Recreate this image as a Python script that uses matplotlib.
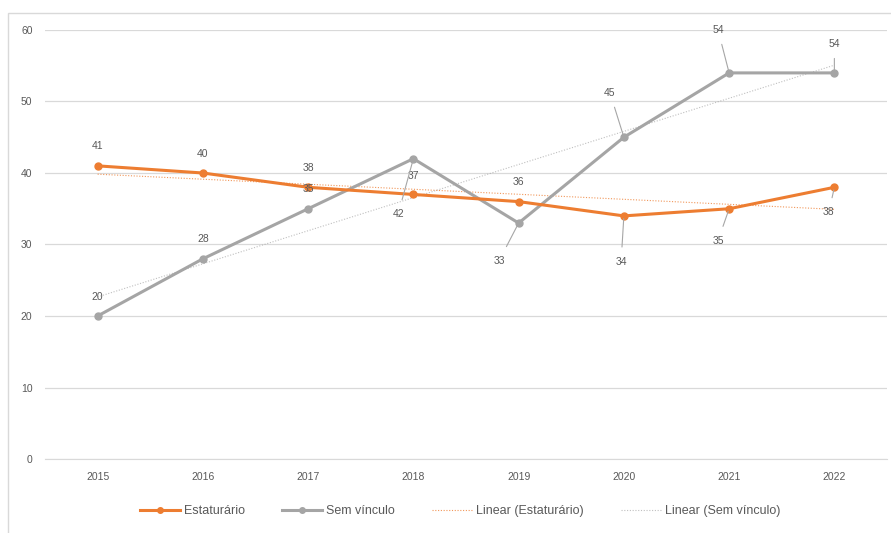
import matplotlib
matplotlib.use("Agg")
import matplotlib.pyplot as plt
import numpy as np
from matplotlib.lines import Line2D
from matplotlib.patches import Rectangle

plt.rcParams["font.family"] = ["Liberation Sans", "DejaVu Sans"]

years = ["2015", "2016", "2017", "2018", "2019", "2020", "2021", "2022"]
estaturario = [41, 40, 38, 37, 36, 34, 35, 38]
sem_vinculo = [20, 28, 35, 42, 33, 45, 54, 54]

# label offsets in points (dx, dy); leader line drawn when far from point
est_offsets = [(0, 14), (0, 14), (0, 14), (0, 13), (0, 14), (-2, -33), (-8, -23), (-4, -18)]
sem_offsets = [(0, 14), (0, 14), (0, 14), (-11, -40), (-14, -27), (-10, 32), (-8, 31), (0, 21)]

ORANGE = "#ED7D31"
GRAY = "#A5A5A5"
TEXT = "#595959"
GRID = "#D9D9D9"

fig = plt.figure(figsize=(8.91, 5.33), dpi=100)
fig.patches.append(Rectangle((8 / 891, -0.1), 1.0, 1 - 13 / 533 + 0.1, transform=fig.transFigure,
                             fill=False, edgecolor="#D9D9D9", linewidth=1.0))
ax = fig.add_axes([45 / 891, 1 - 459 / 533, 842 / 891, 429 / 533])

x = np.arange(len(years))

# linear trendlines (least squares, like a spreadsheet trendline)
for vals, col, a in [(estaturario, ORANGE, 0.8), (sem_vinculo, GRAY, 0.7)]:
    k, b = np.polyfit(x + 1, vals, 1)
    ax.plot(x, k * (x + 1) + b, linestyle=(0, (1, 1.5)), color=col, lw=0.8,
            alpha=a, zorder=2)

ax.plot(x, sem_vinculo, "-o", color=GRAY, lw=2.2, markersize=5, zorder=3)
ax.plot(x, estaturario, "-o", color=ORANGE, lw=2.2, markersize=5, zorder=4)

for vals, offs in [(estaturario, est_offsets), (sem_vinculo, sem_offsets)]:
    for xi, v, (dx, dy) in zip(x, vals, offs):
        far = abs(dy) > 16 or abs(dx) > 4
        ax.annotate(str(v), (xi, v), xytext=(dx, dy), textcoords="offset points",
                    ha="center", va="center", fontsize=7.5, color=TEXT, zorder=6,
                    arrowprops=dict(arrowstyle="-", color="#A6A6A6", lw=0.8,
                                    shrinkA=5, shrinkB=2) if far else None)

ax.set_xlim(-0.5, len(years) - 0.5)
ax.set_ylim(0, 60)
ax.set_yticks(range(0, 61, 10))
ax.set_xticks(x)
ax.set_xticklabels(years)
ax.grid(axis="y", color=GRID, lw=0.9)
ax.set_axisbelow(True)
for s in ["top", "right", "left"]:
    ax.spines[s].set_visible(False)
ax.spines["bottom"].set_color(GRID)
ax.tick_params(axis="both", length=0, labelsize=7.5, colors=TEXT)
ax.tick_params(axis="y", pad=9)
ax.tick_params(axis="x", pad=9)

handles = [
    Line2D([], [], color=ORANGE, lw=2.2, marker="o", markersize=4),
    Line2D([], [], color=GRAY, lw=2.2, marker="o", markersize=4),
    Line2D([], [], color=ORANGE, lw=0.8, linestyle=(0, (1, 1.5)), alpha=0.8),
    Line2D([], [], color=GRAY, lw=0.8, linestyle=(0, (1, 1.5)), alpha=0.7),
]
labels = ["Estaturário", "Sem vínculo", "Linear (Estaturário)", "Linear (Sem vínculo)"]
fig.legend(handles, labels, loc="center", bbox_to_anchor=(460 / 891, 1 - 511 / 533),
           ncol=4, frameon=False, fontsize=9, labelcolor=TEXT, columnspacing=3.0,
           handlelength=3.2, handletextpad=0.3)

fig.savefig("out.png", dpi=100)
